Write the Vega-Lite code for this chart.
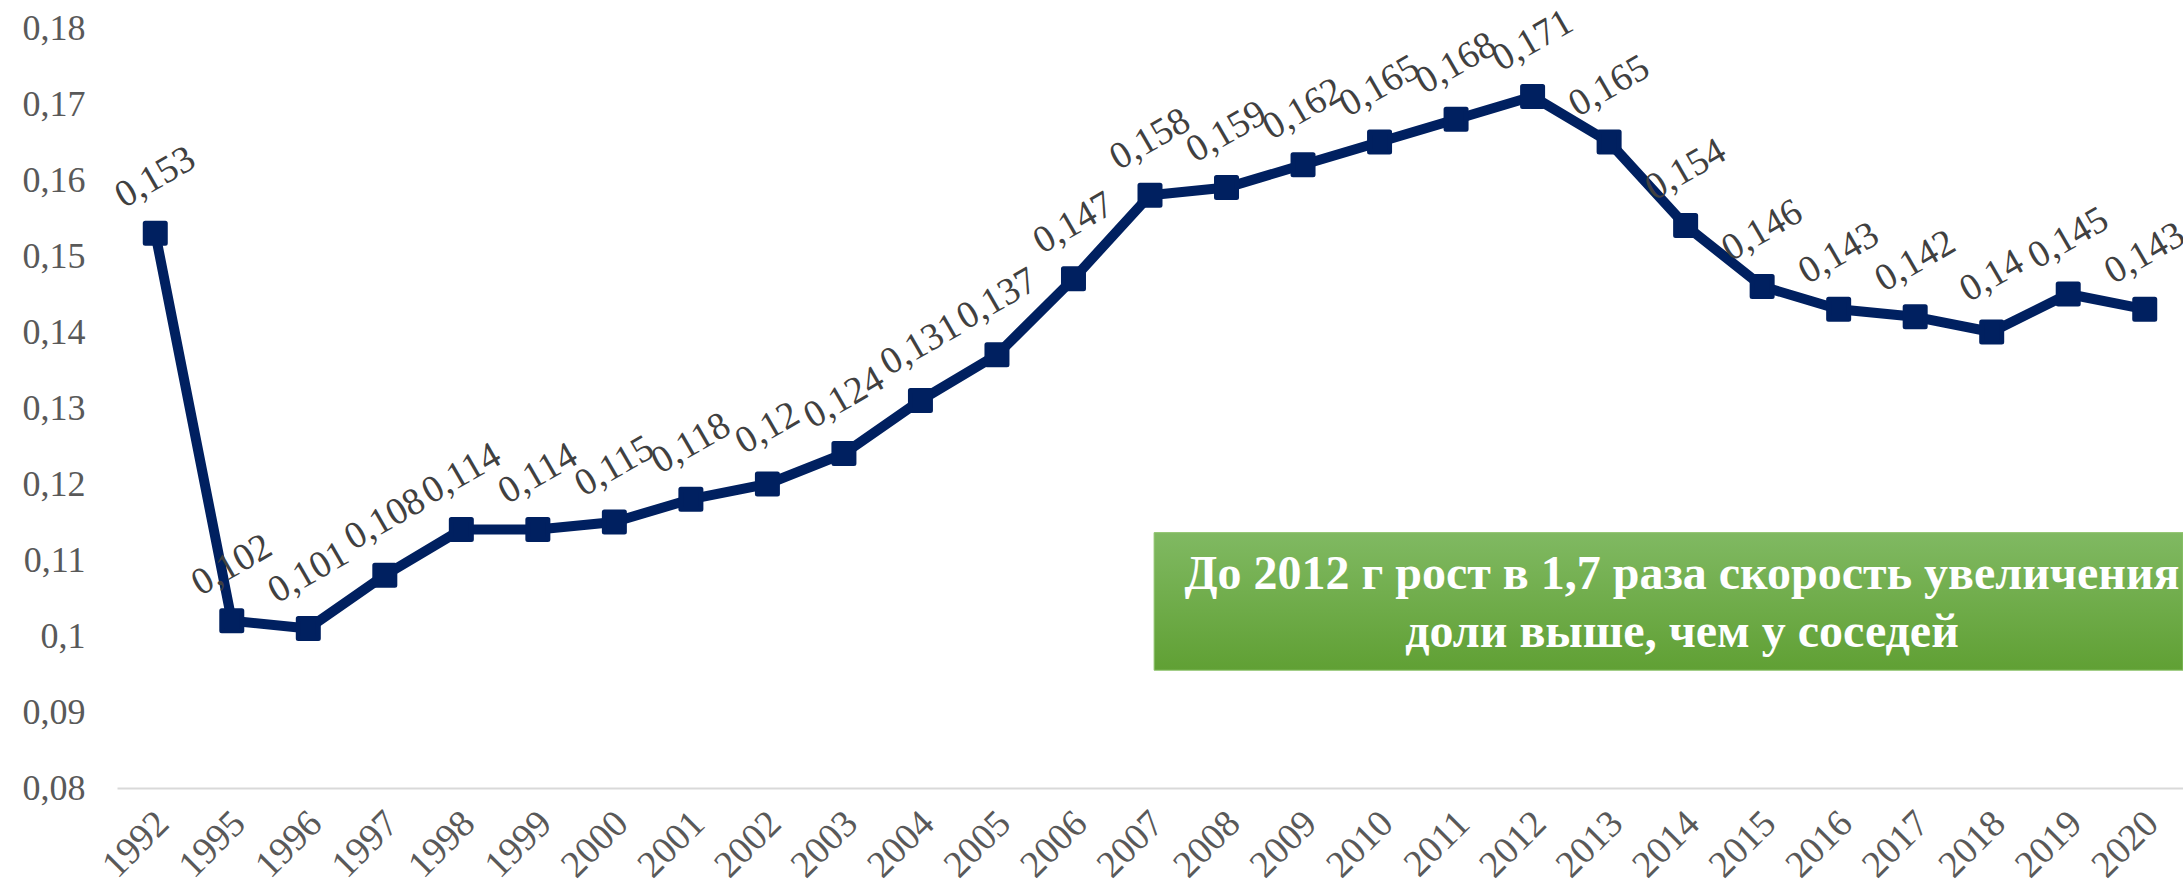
{
  "$schema": "https://vega.github.io/schema/vega-lite/v6.json",
  "width": 2066,
  "height": 760,
  "autosize": {"type": "none"},
  "padding": {"left": 117, "top": 28, "right": 0, "bottom": 98},
  "background": "white",
  "config": {
    "view": {"stroke": null},
    "locale": {"number": {"decimal": ",", "thousands": " ", "grouping": [3], "currency": ["", ""]}},
    "font": "Liberation Serif"
  },
  "datasets": {
    "series": [
      {"year": "1992", "share": 0.153},
      {"year": "1995", "share": 0.102},
      {"year": "1996", "share": 0.101},
      {"year": "1997", "share": 0.108},
      {"year": "1998", "share": 0.114},
      {"year": "1999", "share": 0.114},
      {"year": "2000", "share": 0.115},
      {"year": "2001", "share": 0.118},
      {"year": "2002", "share": 0.12},
      {"year": "2003", "share": 0.124},
      {"year": "2004", "share": 0.131},
      {"year": "2005", "share": 0.137},
      {"year": "2006", "share": 0.147},
      {"year": "2007", "share": 0.158},
      {"year": "2008", "share": 0.159},
      {"year": "2009", "share": 0.162},
      {"year": "2010", "share": 0.165},
      {"year": "2011", "share": 0.168},
      {"year": "2012", "share": 0.171},
      {"year": "2013", "share": 0.165},
      {"year": "2014", "share": 0.154},
      {"year": "2015", "share": 0.146},
      {"year": "2016", "share": 0.143},
      {"year": "2017", "share": 0.142},
      {"year": "2018", "share": 0.14},
      {"year": "2019", "share": 0.145},
      {"year": "2020", "share": 0.143}
    ],
    "box": [{"x0": 0.502, "x1": 1.0, "y0": 0.0955, "y1": 0.1136}],
    "note": [
      {"xc": 0.7575, "yc": 0.1080, "label": "До 2012 г рост в 1,7 раза скорость увеличения"},
      {"xc": 0.7575, "yc": 0.1004, "label": "доли выше, чем у соседей"}
    ]
  },
  "resolve": {"scale": {"x": "independent"}},
  "layer": [
    {
      "data": {"name": "series"},
      "encoding": {
        "x": {
          "field": "year", "type": "ordinal", "sort": null,
          "scale": {"type": "point", "padding": 0.5},
          "axis": {
            "title": null, "labelAngle": -45, "labelFontSize": 38, "labelColor": "#595959",
            "labelFont": "Liberation Serif", "ticks": false, "domainColor": "#d9d9d9", "domainWidth": 2,
            "labelPadding": 16, "labelOffset": -6, "grid": false
          }
        },
        "y": {
          "field": "share", "type": "quantitative",
          "scale": {"domain": [0.08, 0.18], "nice": false, "zero": false},
          "axis": {
            "title": null, "values": [0.08, 0.09, 0.1, 0.11, 0.12, 0.13, 0.14, 0.15, 0.16, 0.17, 0.18],
            "format": ".2~f", "labelFontSize": 36, "labelColor": "#595959", "labelFont": "Liberation Serif",
            "ticks": false, "domain": false, "grid": false, "labelPadding": 32
          }
        }
      },
      "layer": [
        {"mark": {"type": "line", "color": "#002060", "strokeWidth": 10, "strokeJoin": "round"}},
        {"mark": {"type": "point", "shape": "square", "filled": true, "size": 400, "color": "#002060", "stroke": "#002060", "strokeWidth": 5, "strokeJoin": "round", "opacity": 1}},
        {
          "mark": {"type": "text", "angle": -30, "fontSize": 38, "color": "#404040", "font": "Liberation Serif", "align": "center", "baseline": "middle", "dx": 28, "dy": -48},
          "encoding": {"text": {"field": "share", "type": "quantitative", "format": ".3~f"}}
        }
      ]
    },
    {
      "data": {"name": "box"},
      "mark": {
        "type": "rect",
        "color": {"gradient": "linear", "x1": 0, "y1": 0, "x2": 0, "y2": 1, "stops": [{"offset": 0, "color": "#80b962"}, {"offset": 1, "color": "#60a034"}]},
        "stroke": "#8cc26a", "strokeWidth": 1
      },
      "encoding": {
        "x": {"field": "x0", "type": "quantitative", "scale": {"domain": [0, 1], "nice": false, "zero": false}, "axis": null},
        "x2": {"field": "x1"},
        "y": {"field": "y0", "type": "quantitative"},
        "y2": {"field": "y1"}
      }
    },
    {
      "data": {"name": "note"},
      "mark": {"type": "text", "fontSize": 48, "fontWeight": "bold", "color": "white", "font": "Liberation Serif", "align": "center", "baseline": "middle"},
      "encoding": {
        "x": {"field": "xc", "type": "quantitative", "scale": {"domain": [0, 1], "nice": false, "zero": false}, "axis": null},
        "y": {"field": "yc", "type": "quantitative"},
        "text": {"field": "label"}
      }
    }
  ]
}
